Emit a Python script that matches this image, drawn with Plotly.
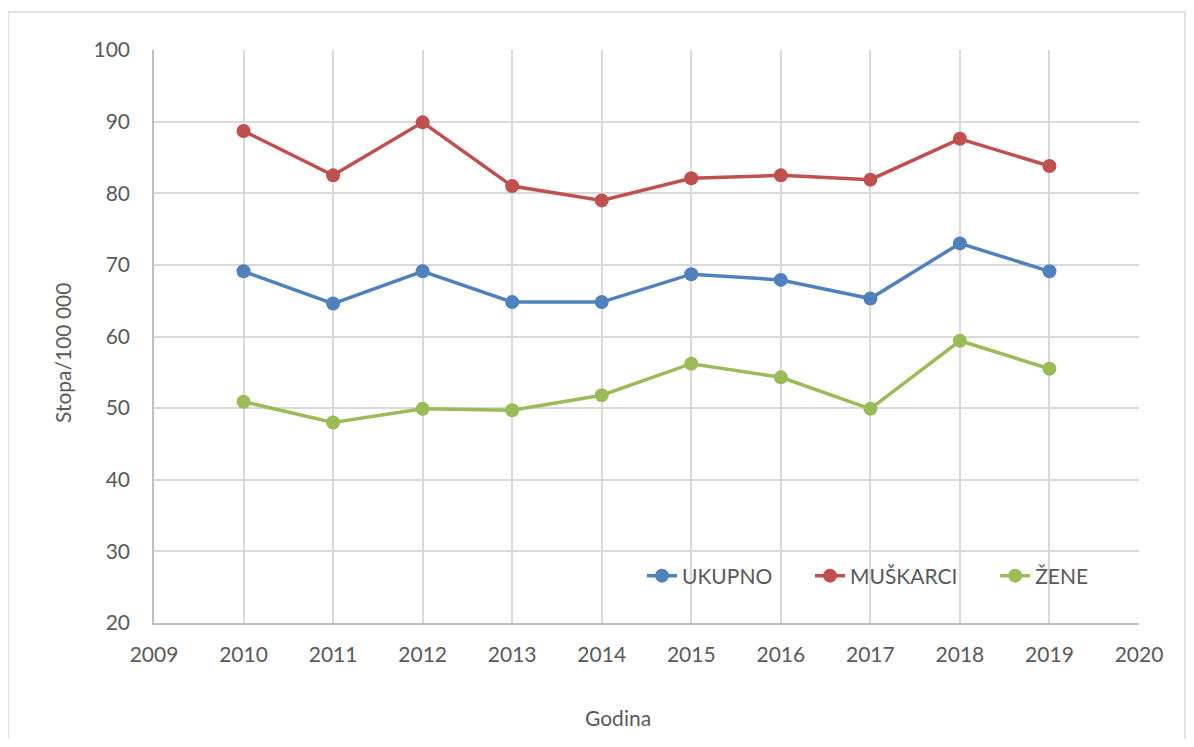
import plotly.graph_objects as go

years = [2010, 2011, 2012, 2013, 2014, 2015, 2016, 2017, 2018, 2019]
ukupno = [69.1, 64.6, 69.1, 64.8, 64.8, 68.7, 67.9, 65.3, 73.0, 69.1]
muskarci = [88.7, 82.5, 89.9, 81.0, 79.0, 82.1, 82.5, 81.9, 87.6, 83.8]
zene = [50.9, 48.0, 49.9, 49.7, 51.8, 56.2, 54.3, 49.9, 59.4, 55.5]

series_names = ["UKUPNO", "MUŠKARCI", "ŽENE"]
series_values = [ukupno, muskarci, zene]
colors = ["#4F81BD", "#C0504D", "#9BBB59"]
legend_ids = ["legend", "legend2", "legend3"]
legend_x = [0.4954, 0.666, 0.854]
x_title = "Godina"
y_title = "Stopa/100 000"

FONT = "Lato, 'Open Sans', sans-serif"
TXT = "#595959"

fig = go.Figure()
for name, vals, col, lg in zip(series_names, series_values, colors, legend_ids):
    fig.add_trace(go.Scatter(
        x=years, y=vals, name=name, mode="lines+markers",
        line=dict(color=col, width=3.5),
        marker=dict(color=col, size=14),
        legend=lg,
    ))

legend_common = dict(orientation="h", y=0.082, xanchor="left", yanchor="middle",
                     bgcolor="rgba(0,0,0,0)", font=dict(size=21, color=TXT),
                     itemwidth=30)

fig.update_layout(
    width=1178, height=731,
    margin=dict(l=146, r=47, t=42, b=116),
    paper_bgcolor="white", plot_bgcolor="white",
    font=dict(family=FONT, color=TXT, size=21),
    showlegend=True,
    legend=dict(x=legend_x[0], **legend_common),
    legend2=dict(x=legend_x[1], **legend_common),
    legend3=dict(x=legend_x[2], **legend_common),
    xaxis=dict(range=[2009, 2020], dtick=1, tick0=2009, showgrid=True,
               gridcolor="#d9d9d9", gridwidth=1.5, showline=True, linecolor="#bfbfbf",
               linewidth=1.5, zeroline=False, ticks="", ticklabelstandoff=12),
    yaxis=dict(range=[20, 100], dtick=10, showgrid=True,
               gridcolor="#d9d9d9", gridwidth=1.5, showline=True, linecolor="#bfbfbf",
               linewidth=1.5, zeroline=False, ticks="", ticklabelstandoff=18),
    annotations=[
        dict(text=x_title, xref="paper", yref="paper", x=(618 - 154) / 985,
             y=(623 - 717) / 573, xanchor="center", yanchor="middle", showarrow=False,
             font=dict(size=21, color=TXT)),
        dict(text=y_title, xref="paper", yref="paper", x=(62 - 154) / 985,
             y=(623 - 353) / 573, xanchor="center", yanchor="middle", showarrow=False,
             textangle=-90, font=dict(size=21, color=TXT)),
    ],
    shapes=[dict(type="rect", xref="paper", yref="paper",
                 x0=(8 - 154) / 985, x1=(1185 - 154) / 985,
                 y0=(623 - 800) / 573, y1=(623 - 12) / 573,
                 line=dict(color="#d9d9d9", width=1.5), fillcolor="rgba(0,0,0,0)",
                 layer="below")],
)

fig.write_html("out.html")
